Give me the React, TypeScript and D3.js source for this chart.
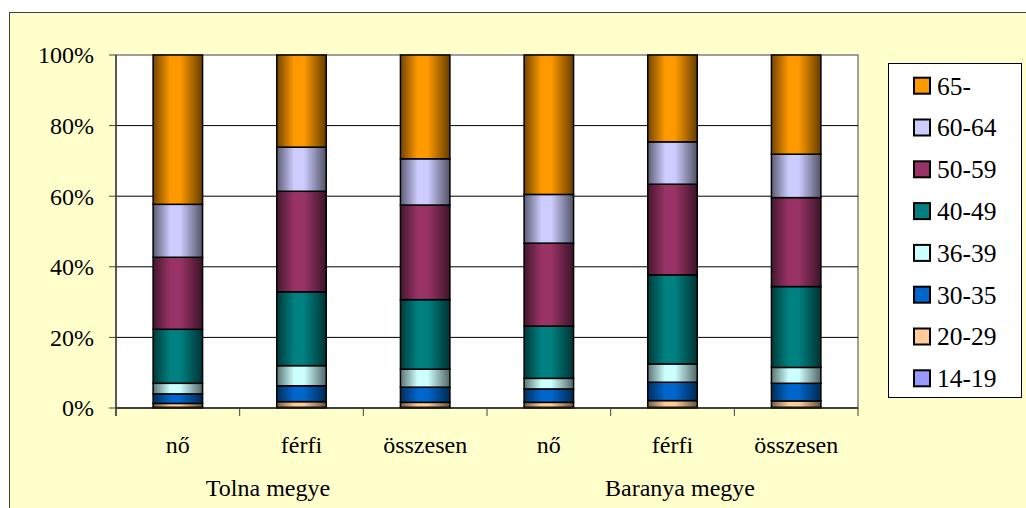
import React from "react";
import * as d3 from "d3";

const categories = ["nő", "férfi", "összesen", "nő", "férfi", "összesen"];
const groups = ["Tolna megye", "Baranya megye"];
const groupLabelCenters = [268, 680];
const seriesNames = ["14-19", "20-29", "30-35", "36-39", "40-49", "50-59", "60-64", "65-"];
const s14_19 = [0.2, 0.2, 0.2, 0.2, 0.2, 0.2];
const s20_29 = [1.1, 1.6, 1.4, 1.4, 1.9, 1.8];
const s30_35 = [2.7, 4.5, 4.3, 3.8, 5.2, 5.0];
const s36_39 = [3.0, 5.7, 5.1, 3.0, 5.2, 4.5];
const s40_49 = [15.3, 20.9, 19.7, 14.8, 25.2, 22.9];
const s50_59 = [20.4, 28.5, 26.8, 23.5, 25.7, 25.2];
const s60_64 = [15.0, 12.5, 13.1, 13.8, 12.0, 12.3];
const s65 = [42.3, 26.1, 29.4, 39.5, 24.6, 28.1];
const seriesValues = [s14_19, s20_29, s30_35, s36_39, s40_49, s50_59, s60_64, s65];
const colors = ["#9999FF", "#FFCC99", "#0066CC", "#CCFFFF", "#008080", "#993366", "#CCCCFF", "#FF9900"];
const yTicks = [0, 20, 40, 60, 80, 100];

const W = 1026, H = 508;
const PL = 116, PR = 858, PT = 55, PB = 408;
const FONT = "'Liberation Serif', 'Times New Roman', serif";
const txt = (size: number): React.CSSProperties => ({ fontFamily: FONT, fontSize: size + "px" });

function shade(c: string, k: number) {
  const col = d3.rgb(c);
  return d3.rgb(col.r * k, col.g * k, col.b * k).formatHex();
}

export default function App() {
  const rows = categories.map((_, i) => {
    const r: any = { idx: String(i) };
    seriesNames.forEach((s, j) => (r[s] = seriesValues[j][i]));
    return r;
  });
  const stacked = d3.stack<any>().keys(seriesNames).offset(d3.stackOffsetExpand)(rows);
  const x = d3.scaleBand().domain(categories.map((_, i) => String(i))).range([PL, PR]).paddingInner(0.6).paddingOuter(0.3);
  const y = d3.scaleLinear().domain([0, 1]).range([PB, PT]);
  const step = x.step();
  const boundaries = d3.range(categories.length + 1).map((i) => PL + i * step);
  const legendOrder = [...seriesNames.keys()].reverse();

  return (
    <div style={{ position: "absolute", left: 0, top: 0 }}>
      <svg width={W} height={H} style={{ display: "block", background: "#fff" }}>
        <defs>
          {colors.map((c, i) => (
            <linearGradient key={i} id={"g" + i} x1="0" x2="1" y1="0" y2="0">
              <stop offset="0%" stopColor={shade(c, 0.45)} />
              <stop offset="35%" stopColor={c} />
              <stop offset="55%" stopColor={c} />
              <stop offset="100%" stopColor={shade(c, 0.4)} />
            </linearGradient>
          ))}
        </defs>
        <rect x={9.5} y={12.5} width={1040} height={520} fill="#FFFFCC" stroke="#404040" strokeWidth={1} />
        <rect x={PL} y={PT} width={PR - PL} height={PB - PT} fill="#fff" stroke="#808080" strokeWidth={1.5} />
        {yTicks.slice(1, -1).map((t) => (
          <line key={t} x1={PL} x2={PR} y1={y(t / 100)} y2={y(t / 100)} stroke="#000" strokeWidth={1} />
        ))}
        {stacked.map((layer, j) =>
          layer.map((d, i) => (
            <rect
              key={j + "-" + i}
              x={x(String(i))}
              width={x.bandwidth()}
              y={y(d[1])}
              height={Math.max(0, y(d[0]) - y(d[1]))}
              fill={`url(#g${j})`}
              stroke="#000"
              strokeWidth={1.5}
            />
          ))
        )}
        <line x1={PL} x2={PL} y1={PT} y2={PB + 8} stroke="#404040" strokeWidth={1.5} />
        <line x1={PL} x2={PR} y1={PB} y2={PB} stroke="#202020" strokeWidth={1.5} />
        {yTicks.map((t) => (
          <g key={t}>
            <line x1={PL - 7} x2={PL} y1={y(t / 100)} y2={y(t / 100)} stroke="#404040" strokeWidth={1} />
            <text x={94} y={y(t / 100)} dy="0.35em" textAnchor="end" style={txt(24)} fill="#000">
              {t + "%"}
            </text>
          </g>
        ))}
        {boundaries.map((b, i) => (
          <line key={i} x1={b} x2={b} y1={PB} y2={PB + 8} stroke="#404040" strokeWidth={1} />
        ))}
        {categories.map((c, i) => (
          <text key={i} x={(x(String(i)) as number) + x.bandwidth() / 2} y={453} textAnchor="middle" style={txt(24)} fill="#000">
            {c}
          </text>
        ))}
        {groups.map((g, gi) => (
          <text key={g} x={groupLabelCenters[gi]} y={496} textAnchor="middle" style={txt(24)} fill="#000">
            {g}
          </text>
        ))}
        <rect x={888.5} y={63.5} width={133} height={334} fill="#fff" stroke="#000" strokeWidth={1} />
        {legendOrder.map((j, k) => {
          const cy = 85.7 + k * 41.8;
          return (
            <g key={j}>
              <rect x={914} y={cy - 8} width={16} height={16} fill={colors[j]} stroke="#000" strokeWidth={2} />
              <text x={937} y={cy} dy="0.35em" style={txt(25.5)} fill="#000">
                {seriesNames[j]}
              </text>
            </g>
          );
        })}
      </svg>
    </div>
  );
}
